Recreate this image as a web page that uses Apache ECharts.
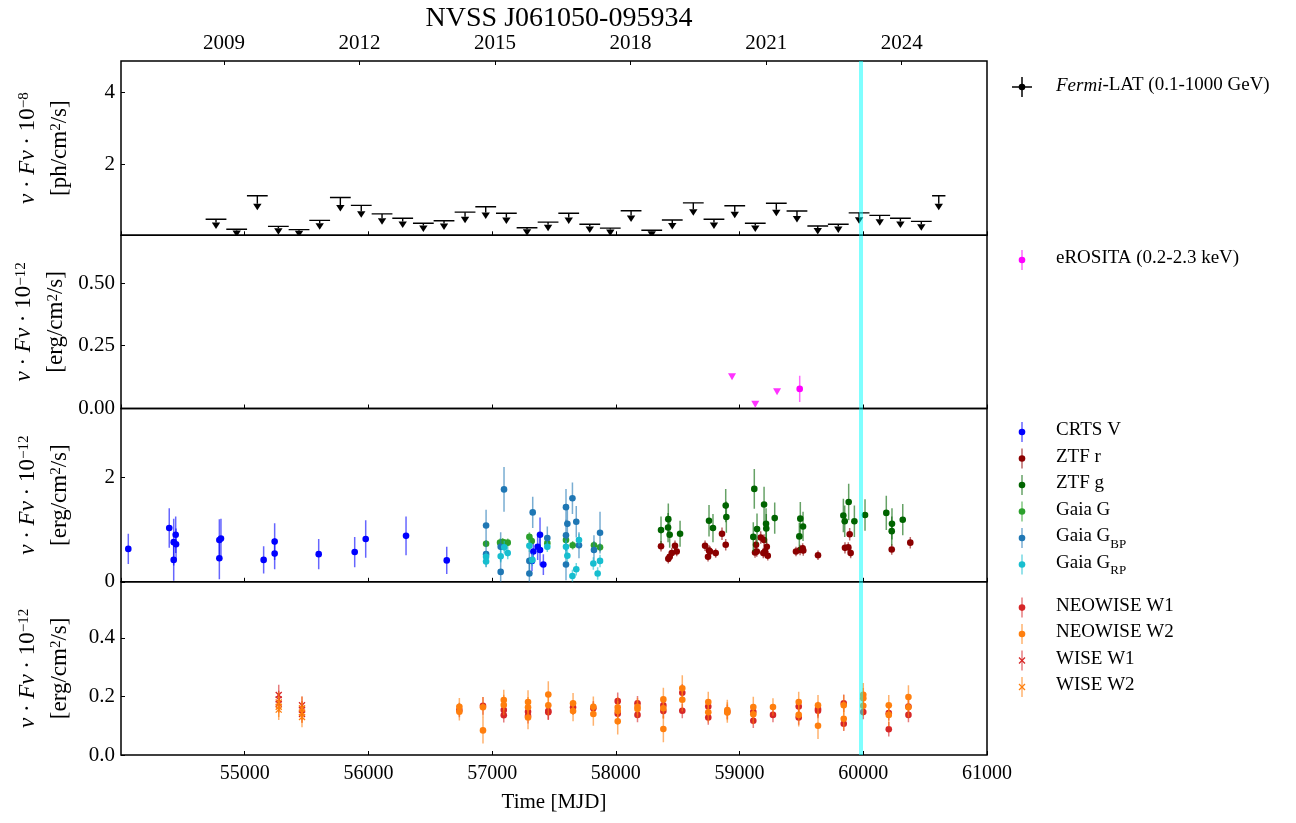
<!DOCTYPE html>
<html><head><meta charset="utf-8">
<script src="https://cdn.jsdelivr.net/npm/echarts@6/dist/echarts.min.js"></script>
<style>html,body{margin:0;padding:0;background:#fff}#c{width:1296px;height:823px}</style>
</head><body><div id="c"></div>
<script>
// ---------------- DATA ----------------
const chartTitle = 'NVSS J061050-095934';
const yearTickMJD = [54832, 55927, 57023, 58119, 59215, 60310];
const yearTickLabels = ['2009', '2012', '2015', '2018', '2021', '2024'];
const markerMJD = 59983;

// Fermi-LAT upper limits (10^-8 ph/cm2/s)
const fermiMJD = [54768,54935,55102,55272,55439,55606,55773,55942,56110,56277,56444,56611,56781,56948,57115,57282,57452,57619,57789,57955,58123,58290,58456,58626,58793,58961,59127,59297,59464,59632,59798,59966,60133,60300,60469,60610];
const fermiUL = [0.45,0.17,1.11,0.25,0.16,0.42,1.06,0.84,0.60,0.48,0.34,0.41,0.65,0.80,0.62,0.21,0.37,0.62,0.31,0.20,0.69,0.14,0.43,0.91,0.45,0.83,0.34,0.90,0.68,0.26,0.31,0.63,0.56,0.48,0.39,1.11];
const fermiHalfBin = [84,84,84,84,84,84,84,84,84,84,84,84,84,84,84,84,84,84,84,84,84,84,84,84,84,84,84,84,84,84,84,84,84,84,84,54];

// eROSITA (10^-12 erg/cm2/s)
const eroUlMJD = [58939, 59127, 59303];
const eroUl = [0.126, 0.017, 0.067];
const eroMJD = [59486];
const eroFlux = [0.078];
const eroErr = [0.052];

// Optical (10^-12 erg/cm2/s)
const crtsMJD = [54059,54390,54426,54426,54442,54445,54795,54795,54808,55153,55242,55242,55598,55889,55978,56304,56633,57322,57333,57368,57387,57387,57414];
const crtsFlux = [0.63,1.03,0.76,0.42,0.90,0.72,0.80,0.45,0.83,0.42,0.77,0.54,0.53,0.57,0.82,0.88,0.41,0.40,0.58,0.67,0.90,0.61,0.33];
const crtsErr = [0.29,0.38,0.45,0.40,0.35,0.30,0.40,0.40,0.38,0.26,0.35,0.30,0.29,0.29,0.36,0.37,0.26,0.20,0.20,0.25,0.33,0.30,0.20];

const ztfrMJD = [58365,58424,58435,58452,58478,58492,58721,58753,58745,58761,58807,58858,58888,59133,59139,59171,59198,59220,59206,59228,59192,59125,59456,59489,59510,59515,59634,59852,59879,59890,59898,60230,60380];
const ztfrFlux = [0.68,0.44,0.48,0.55,0.69,0.58,0.69,0.60,0.48,0.58,0.55,0.92,0.71,0.71,0.58,0.85,0.80,0.67,0.58,0.50,0.55,0.56,0.58,0.61,0.64,0.60,0.51,0.65,0.66,0.91,0.55,0.62,0.75];
const ztfrErr = [0.10,0.09,0.10,0.10,0.10,0.09,0.10,0.10,0.09,0.10,0.09,0.12,0.11,0.12,0.10,0.12,0.11,0.10,0.10,0.09,0.10,0.10,0.09,0.10,0.10,0.10,0.09,0.11,0.10,0.12,0.10,0.10,0.11];

const ztfgMJD = [58365,58424,58422,58435,58519,58753,58785,58888,58893,59119,59141,59111,59198,59214,59216,59284,59491,59513,59483,59839,59882,59850,59928,60014,60186,60232,60230,60319];
const ztfgFlux = [0.99,1.20,1.04,0.90,0.92,1.17,1.03,1.46,1.24,1.78,1.01,0.86,1.48,1.11,1.02,1.22,1.21,1.06,0.87,1.27,1.53,1.16,1.16,1.28,1.32,1.11,0.97,1.19];
const ztfgErr = [0.26,0.30,0.28,0.25,0.25,0.30,0.27,0.32,0.30,0.38,0.30,0.28,0.34,0.30,0.28,0.30,0.32,0.28,0.26,0.32,0.35,0.30,0.30,0.30,0.33,0.30,0.28,0.30];

const gaiaGMJD = [56951,57064,57085,57104,57126,57301,57320,57446,57597,57651,57823,57872];
const gaiaGFlux = [0.73,0.75,0.76,0.74,0.75,0.86,0.78,0.74,0.80,0.70,0.70,0.66];
const gaiaGErr = [0.07,0.08,0.08,0.08,0.08,0.09,0.08,0.08,0.08,0.08,0.08,0.08];

const gaiaBPMJD = [56951,56951,57069,57069,57096,57328,57301,57301,57446,57597,57649,57608,57597,57597,57680,57702,57872,57823];
const gaiaBPFlux = [1.08,0.53,0.67,0.19,1.77,1.33,0.40,0.16,0.84,1.43,1.60,1.11,0.89,0.33,1.15,0.70,0.94,0.61];
const gaiaBPErr = [0.30,0.25,0.28,0.30,0.43,0.30,0.28,0.30,0.22,0.35,0.30,0.30,0.30,0.30,0.30,0.25,0.40,0.28];

const gaiaRPMJD = [56951,56951,57069,57098,57126,57301,57325,57446,57597,57608,57649,57680,57702,57818,57872,57853];
const gaiaRPFlux = [0.48,0.39,0.49,0.66,0.55,0.69,0.42,0.67,0.67,0.50,0.11,0.24,0.80,0.35,0.40,0.16];
const gaiaRPErr = [0.10,0.10,0.12,0.12,0.12,0.12,0.12,0.10,0.12,0.12,0.12,0.12,0.12,0.12,0.12,0.12];

// Infrared (10^-12 erg/cm2/s)
const neoW1MJD = [56735,56926,57094,57094,57290,57290,57454,57454,57654,57818,58015,58015,58175,58175,58384,58384,58537,58537,58747,58747,58901,59111,59111,59270,59478,59478,59634,59634,59842,59842,60000,60206,60206,60365,60365];
const neoW1Flux = [0.154,0.168,0.154,0.136,0.148,0.133,0.150,0.146,0.163,0.160,0.184,0.141,0.177,0.137,0.170,0.150,0.213,0.151,0.166,0.128,0.148,0.148,0.117,0.137,0.166,0.128,0.151,0.157,0.177,0.107,0.147,0.143,0.088,0.166,0.137];
const neoW1Err = [0.025,0.030,0.025,0.025,0.025,0.025,0.030,0.025,0.025,0.025,0.030,0.025,0.025,0.025,0.030,0.025,0.030,0.025,0.025,0.025,0.025,0.025,0.025,0.025,0.025,0.025,0.025,0.025,0.030,0.025,0.025,0.025,0.025,0.025,0.025];

const neoW2MJD = [56735,56735,56926,56926,57094,57094,57290,57290,57290,57454,57454,57654,57654,57818,57818,58015,58015,58015,58175,58175,58384,58384,58384,58537,58537,58747,58747,58901,58901,59111,59111,59270,59478,59478,59634,59634,59842,59842,60000,60000,60000,60206,60206,60365,60365];
const neoW2Flux = [0.165,0.148,0.163,0.084,0.188,0.171,0.181,0.163,0.128,0.207,0.170,0.177,0.150,0.165,0.140,0.163,0.150,0.115,0.165,0.157,0.190,0.160,0.089,0.228,0.189,0.181,0.146,0.154,0.145,0.164,0.139,0.164,0.181,0.137,0.170,0.100,0.170,0.124,0.206,0.194,0.168,0.170,0.137,0.198,0.163];
const neoW2Err = [0.030,0.030,0.035,0.045,0.035,0.035,0.040,0.035,0.040,0.045,0.035,0.035,0.035,0.035,0.040,0.035,0.035,0.045,0.030,0.030,0.040,0.035,0.045,0.045,0.040,0.035,0.035,0.035,0.035,0.035,0.035,0.030,0.035,0.040,0.035,0.045,0.035,0.040,0.040,0.035,0.035,0.035,0.040,0.040,0.035];

const wiseW1MJD = [55275,55275,55275,55463,55463,55463];
const wiseW1Flux = [0.205,0.190,0.175,0.170,0.155,0.140];
const wiseW1Err = [0.035,0.030,0.030,0.030,0.030,0.030];
const wiseW2MJD = [55275,55275,55275,55463,55463,55463];
const wiseW2Flux = [0.180,0.165,0.155,0.160,0.145,0.130];
const wiseW2Err = [0.035,0.035,0.035,0.040,0.035,0.035];

// legend rows
const legendItems = [
  ['Fermi', '#000000', 'cross', '{it|Fermi}{m|-LAT (0.1-1000 GeV)}'],
  ['eROSITA', '#ff00ff', 'dot', '{m|eROSITA (0.2-2.3 keV)}'],
  ['CRTS V', '#0000ff', 'dot', '{m|CRTS V}'],
  ['ZTF r', '#8b0000', 'dot', '{m|ZTF r}'],
  ['ZTF g', '#006400', 'dot', '{m|ZTF g}'],
  ['Gaia G', '#2ca02c', 'dot', '{m|Gaia G}'],
  ['Gaia GBP', '#1f77b4', 'dot', '{m|Gaia G}{sub|BP}'],
  ['Gaia GRP', '#17becf', 'dot', '{m|Gaia G}{sub|RP}'],
  ['NEOWISE W1', '#d62728', 'dot', '{m|NEOWISE W1}'],
  ['NEOWISE W2', '#ff7f0e', 'dot', '{m|NEOWISE W2}'],
  ['WISE W1', '#d62728', 'x', '{m|WISE W1}'],
  ['WISE W2', '#ff7f0e', 'x', '{m|WISE W2}']
];
const legendRowY = [87, 260, 432, 458.5, 485, 511.5, 538, 564.5, 607.6, 634, 660.5, 687];

// ---------------- CHART ----------------
const FONT = "'Liberation Serif', 'DejaVu Serif', serif";
const gridTops = [61, 235.3, 408.5, 581.8];
const gridHeights = [174.3, 173.2, 173.3, 173.2];
const yMax = [4.89, 0.69, 3.32, 0.592];
const yInt = [2, 0.25, 2, 0.2];
const yDec = [0, 2, 0, 1];

const zip = (a, b, c) => a.map((v, i) => [v, b[i], c[i]]);

function errSeries(name, color, mjd, flux, err, gi, marker) {
  return {
    type: 'custom', name: name, xAxisIndex: gi, yAxisIndex: gi, clip: true,
    itemStyle: { color: color },
    data: zip(mjd, flux, err),
    encode: { x: 0, y: 1 },
    renderItem: function (params, api) {
      const x = api.value(0), y = api.value(1), e = api.value(2);
      const p = api.coord([x, y]);
      const lo = api.coord([x, y - e]);
      const hi = api.coord([x, y + e]);
      const ch = [{ type: 'line', shape: { x1: p[0], y1: lo[1], x2: p[0], y2: hi[1] },
        style: { stroke: color, lineWidth: 1.5, opacity: 0.6 } }];
      if (marker === 'x') {
        const s = 3;
        ch.push({ type: 'line', shape: { x1: p[0] - s, y1: p[1] - s, x2: p[0] + s, y2: p[1] + s }, style: { stroke: color, lineWidth: 1.3 } });
        ch.push({ type: 'line', shape: { x1: p[0] - s, y1: p[1] + s, x2: p[0] + s, y2: p[1] - s }, style: { stroke: color, lineWidth: 1.3 } });
      } else {
        ch.push({ type: 'circle', shape: { cx: p[0], cy: p[1], r: 3.3 }, style: { fill: color } });
      }
      return { type: 'group', children: ch };
    }
  };
}

const fermiSeries = {
  type: 'custom', name: 'Fermi', xAxisIndex: 0, yAxisIndex: 0, clip: true,
  itemStyle: { color: '#000' },
  data: zip(fermiMJD, fermiUL, fermiHalfBin),
  encode: { x: 0, y: 1 },
  renderItem: function (params, api) {
    const x = api.value(0), ul = api.value(1), hw = api.value(2);
    const a = api.coord([x - hw, ul]), b = api.coord([x + hw, ul]);
    const p = api.coord([x, ul]);
    const q = api.coord([x, ul * 0.8]);
    const by = Math.max(q[1], p[1] + 1);
    return { type: 'group', children: [
      { type: 'line', shape: { x1: a[0], y1: a[1], x2: b[0], y2: b[1] }, style: { stroke: '#000', lineWidth: 1.4 } },
      { type: 'line', shape: { x1: p[0], y1: p[1], x2: p[0], y2: by }, style: { stroke: '#000', lineWidth: 1.4 } },
      { type: 'polygon', shape: { points: [[p[0] - 4.2, by], [p[0] + 4.2, by], [p[0], by + 6.5]] }, style: { fill: '#000' } }
    ] };
  }
};

const eroUlSeries = {
  type: 'scatter', name: 'eROSITA UL', xAxisIndex: 1, yAxisIndex: 1,
  symbol: 'triangle', symbolRotate: 180, symbolSize: [8, 7],
  itemStyle: { color: '#ff00ff' },
  data: eroUlMJD.map((m, i) => [m, eroUl[i]])
};

function cyanLine(gi) {
  return { type: 'line', xAxisIndex: gi, yAxisIndex: gi, data: [], silent: true,
    markLine: { symbol: 'none', silent: true, label: { show: false },
      lineStyle: { color: '#00ffff', opacity: 0.5, width: 4, type: 'solid' },
      data: [{ xAxis: markerMJD }] } };
}

const series = [
  fermiSeries,
  eroUlSeries,
  errSeries('eROSITA', '#ff00ff', eroMJD, eroFlux, eroErr, 1),
  errSeries('CRTS V', '#0000ff', crtsMJD, crtsFlux, crtsErr, 2),
  errSeries('ZTF r', '#8b0000', ztfrMJD, ztfrFlux, ztfrErr, 2),
  errSeries('ZTF g', '#006400', ztfgMJD, ztfgFlux, ztfgErr, 2),
  errSeries('Gaia G', '#2ca02c', gaiaGMJD, gaiaGFlux, gaiaGErr, 2),
  errSeries('Gaia GBP', '#1f77b4', gaiaBPMJD, gaiaBPFlux, gaiaBPErr, 2),
  errSeries('Gaia GRP', '#17becf', gaiaRPMJD, gaiaRPFlux, gaiaRPErr, 2),
  errSeries('NEOWISE W1', '#d62728', neoW1MJD, neoW1Flux, neoW1Err, 3),
  errSeries('NEOWISE W2', '#ff7f0e', neoW2MJD, neoW2Flux, neoW2Err, 3),
  errSeries('WISE W1', '#d62728', wiseW1MJD, wiseW1Flux, wiseW1Err, 3, 'x'),
  errSeries('WISE W2', '#ff7f0e', wiseW2MJD, wiseW2Flux, wiseW2Err, 3, 'x'),
  cyanLine(0), cyanLine(1), cyanLine(2), cyanLine(3)
];

const grids = gridTops.map((t, i) => ({ left: 121, width: 866, top: t, height: gridHeights[i],
  show: true, borderColor: '#000', borderWidth: 1.5, backgroundColor: 'transparent', containLabel: false }));

const xAxes = [0, 1, 2, 3].map(i => ({
  type: 'value', gridIndex: i, min: 54000, max: 61000, interval: 1000,
  axisLine: { show: false }, splitLine: { show: false },
  axisTick: { show: true, inside: true, length: 4, lineStyle: { color: '#000', width: 1 } },
  axisLabel: { show: i === 3, fontFamily: FONT, fontSize: 20, color: '#000', margin: 9,
    showMinLabel: false, formatter: v => String(v) },
  name: i === 3 ? 'Time [MJD]' : '', nameLocation: 'middle', nameGap: 37,
  nameTextStyle: { fontFamily: FONT, fontSize: 21, color: '#000' }
}));
xAxes.push({
  type: 'value', gridIndex: 0, position: 'top', min: 54000, max: 61000,
  axisLine: { show: false }, splitLine: { show: false },
  axisTick: { show: true, inside: true, length: 4, customValues: yearTickMJD, lineStyle: { color: '#000' } },
  axisLabel: { show: true, customValues: yearTickMJD, fontFamily: FONT, fontSize: 21, color: '#000', margin: 7,
    formatter: v => yearTickLabels[yearTickMJD.indexOf(v)] || '' }
});

const nameRich = {
  m: { fontFamily: FONT, fontSize: 23, lineHeight: 32, verticalAlign: 'bottom', color: '#000' },
  i: { fontFamily: FONT, fontSize: 23, lineHeight: 32, fontStyle: 'italic', verticalAlign: 'bottom', color: '#000' },
  sup: { fontFamily: FONT, fontSize: 15, lineHeight: 15, verticalAlign: 'bottom', padding: [0, 0, 7, 0], color: '#000' }
};
const yNames = [
  '{i|ν}{m| · }{i|Fν}{m| · 10}{sup|−8}\n{m|[ph/cm}{sup|2}{m|/s]}',
  '{i|ν}{m| · }{i|Fν}{m| · 10}{sup|−12}\n{m|[erg/cm}{sup|2}{m|/s]}',
  '{i|ν}{m| · }{i|Fν}{m| · 10}{sup|−12}\n{m|[erg/cm}{sup|2}{m|/s]}',
  '{i|ν}{m| · }{i|Fν}{m| · 10}{sup|−12}\n{m|[erg/cm}{sup|2}{m|/s]}'
];
const yAxes = [0, 1, 2, 3].map(i => ({
  type: 'value', gridIndex: i, min: 0, max: yMax[i], interval: yInt[i],
  axisLine: { show: false }, splitLine: { show: false },
  axisTick: { show: true, inside: true, length: 4, lineStyle: { color: '#000' } },
  axisLabel: { fontFamily: FONT, fontSize: 21, color: '#000', margin: 6,
    showMinLabel: i !== 0, showMaxLabel: false, formatter: v => v.toFixed(yDec[i]) },
  name: yNames[i], nameLocation: 'middle', nameRotate: 90, nameGap: 50,
  nameTextStyle: { rich: nameRich, fontFamily: FONT, fontSize: 23, color: '#000' }
}));

// legends drawn as graphic rows (icon + real text)
const legendRich = {
  m: { fontFamily: FONT, fontSize: 19, lineHeight: 22, verticalAlign: 'top', fill: '#000', color: '#000' },
  it: { fontFamily: FONT, fontSize: 19, lineHeight: 22, verticalAlign: 'top', fontStyle: 'italic', fill: '#000', color: '#000' },
  sub: { fontFamily: FONT, fontSize: 13, lineHeight: 13, verticalAlign: 'top', padding: [11, 0, 0, 0], fill: '#000', color: '#000' }
};
const ICON_X = 1022, TEXT_X = 1056;
const legendGraphics = legendItems.map((it, k) => {
  const y = legendRowY[k], color = it[1], kind = it[2];
  const ch = [];
  if (kind === 'cross') {
    ch.push({ type: 'line', shape: { x1: ICON_X - 10, y1: y, x2: ICON_X + 10, y2: y }, style: { stroke: color, lineWidth: 1.5 } });
    ch.push({ type: 'line', shape: { x1: ICON_X, y1: y - 10, x2: ICON_X, y2: y + 10 }, style: { stroke: color, lineWidth: 1.5 } });
  } else {
    ch.push({ type: 'line', shape: { x1: ICON_X, y1: y - 10, x2: ICON_X, y2: y + 10 }, style: { stroke: color, lineWidth: 1.5, opacity: 0.6 } });
  }
  if (kind === 'x') {
    ch.push({ type: 'line', shape: { x1: ICON_X - 3, y1: y - 3, x2: ICON_X + 3, y2: y + 3 }, style: { stroke: color, lineWidth: 1.3 } });
    ch.push({ type: 'line', shape: { x1: ICON_X - 3, y1: y + 3, x2: ICON_X + 3, y2: y - 3 }, style: { stroke: color, lineWidth: 1.3 } });
  } else {
    ch.push({ type: 'circle', shape: { cx: ICON_X, cy: y, r: 3.3 }, style: { fill: color } });
  }
  ch.push({ type: 'text', x: TEXT_X, y: y, style: { text: it[3], rich: legendRich, verticalAlign: 'middle', align: 'left',
    fill: '#000', font: '19px ' + FONT } });
  return { type: 'group', children: ch, silent: true };
});

const chart = echarts.init(document.getElementById('c'), null, { renderer: 'canvas' });
chart.setOption({
  backgroundColor: '#fff',
  animation: false,
  title: { text: chartTitle, left: 554, textAlign: 'center', top: 0,
    textStyle: { fontFamily: FONT, fontSize: 28, fontWeight: 'normal', color: '#000' } },
  grid: grids, xAxis: xAxes, yAxis: yAxes, series: series,
  graphic: { elements: legendGraphics }
});
</script></body></html>
